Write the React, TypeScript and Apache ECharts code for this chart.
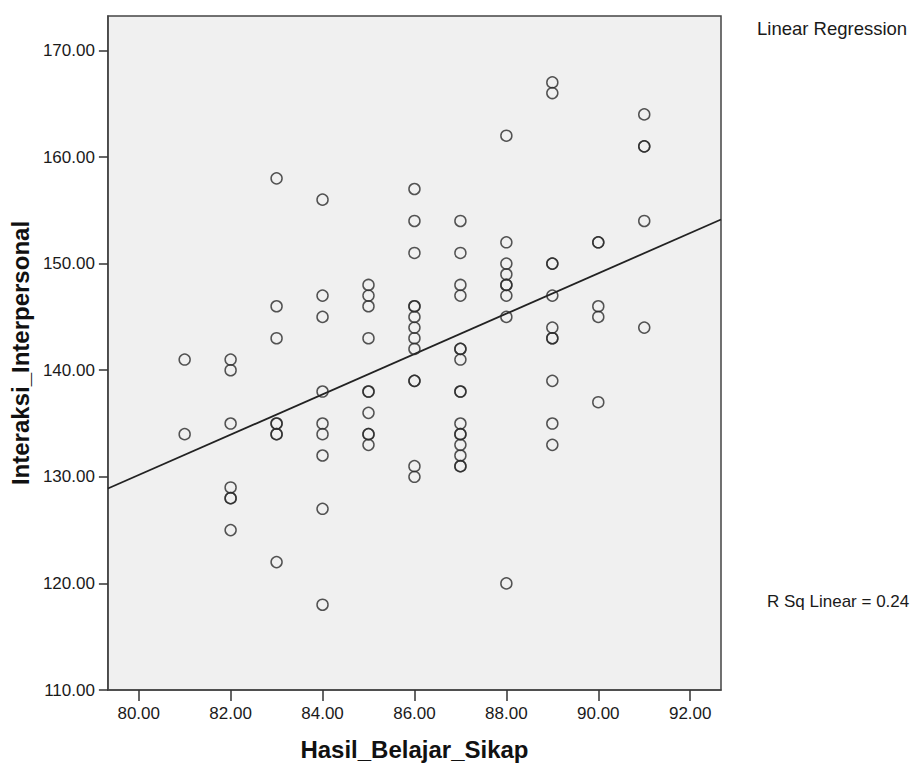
import React, { useEffect, useRef } from "react";
import * as echarts from "echarts";

// Scatter data: Hasil_Belajar_Sikap (x) vs Interaksi_Interpersonal (y)
const x81 = [141, 134];
const x82 = [141, 140, 135, 129, 128, 128, 125];
const x83 = [158, 146, 143, 135, 135, 134, 134, 122];
const x84 = [156, 147, 145, 138, 135, 134, 132, 127, 118];
const x85 = [148, 147, 146, 143, 138, 138, 136, 134, 134, 133];
const x86 = [157, 154, 151, 146, 146, 145, 144, 143, 142, 139, 139, 131, 130];
const x87 = [154, 151, 148, 147, 142, 142, 141, 138, 138, 135, 134, 134, 133, 132, 131, 131];
const x88 = [162, 152, 150, 149, 148, 148, 147, 145, 120];
const x89 = [167, 166, 150, 150, 147, 144, 143, 143, 139, 135, 133];
const x90 = [152, 152, 146, 145, 137];
const x91 = [164, 161, 161, 154, 144];

const columnX = [81, 82, 83, 84, 85, 86, 87, 88, 89, 90, 91];
const columnY = [x81, x82, x83, x84, x85, x86, x87, x88, x89, x90, x91];

// Fitted regression line endpoints (read at the plot edges)
const regLineX = [79.33, 92.67];
const regLineY = [128.9, 154.14];

const xTicks = [80, 82, 84, 86, 88, 90, 92];
const yTicks = [110, 120, 130, 140, 150, 160, 170];
const xExtent = [79.33, 92.67];
const yExtent = [110, 173.23];

const rSqText = "R Sq Linear = 0.24";
const legendText = "Linear Regression";

const FONT = "'Liberation Sans', Arial, Helvetica, sans-serif";

export default function App() {
  const ref = useRef<HTMLDivElement>(null);
  useEffect(() => {
    if (!ref.current) return;
    const chart = echarts.init(ref.current, null, { renderer: "svg" });
    const points: number[][] = [];
    columnX.forEach((cx, i) => {
      columnY[i].forEach((v) => points.push([cx, v]));
    });
    chart.setOption({
      animation: false,
      backgroundColor: "#ffffff",
      textStyle: { fontFamily: FONT },
      grid: {
        left: 106,
        top: 16,
        right: 203,
        bottom: 72,
        show: true,
        backgroundColor: "#f0f0f0",
        borderColor: "#444444",
        borderWidth: 1.5,
      },
      xAxis: {
        type: "value",
        min: xExtent[0],
        max: xExtent[1],
        name: "Hasil_Belajar_Sikap",
        nameLocation: "middle",
        nameGap: 47,
        nameTextStyle: { fontFamily: FONT, fontWeight: "bold", fontSize: 24, color: "#111" },
        axisLine: { show: true, lineStyle: { color: "#444", width: 1.5 } },
        axisTick: {
          show: true,
          inside: false,
          length: 11,
          customValues: xTicks,
          lineStyle: { color: "#333", width: 1.5 },
        },
        axisLabel: {
          customValues: xTicks,
          margin: 15,
          fontSize: 17,
          color: "#1a1a1a",
          fontFamily: FONT,
          formatter: (v: number) => v.toFixed(2),
        },
        splitLine: { show: false },
      },
      yAxis: {
        type: "value",
        min: yExtent[0],
        max: yExtent[1],
        name: "Interaksi_Interpersonal",
        nameLocation: "middle",
        nameGap: 74,
        nameTextStyle: { fontFamily: FONT, fontWeight: "bold", fontSize: 24, color: "#111" },
        axisLine: { show: true, lineStyle: { color: "#444", width: 1.5 } },
        axisTick: {
          show: true,
          inside: false,
          length: 9,
          customValues: yTicks,
          lineStyle: { color: "#333", width: 1.5 },
        },
        axisLabel: {
          customValues: yTicks,
          margin: 13,
          fontSize: 17,
          color: "#1a1a1a",
          fontFamily: FONT,
          formatter: (v: number) => v.toFixed(2),
        },
        splitLine: { show: false },
      },
      series: [
        {
          type: "line",
          data: regLineX.map((x, i) => [x, regLineY[i]]),
          symbol: "none",
          lineStyle: { color: "#222", width: 1.8 },
          silent: true,
          z: 3,
        },
        {
          type: "scatter",
          data: points,
          symbol: "circle",
          symbolSize: 11,
          itemStyle: { color: "rgba(0,0,0,0)", borderColor: "#2a2a2a", borderWidth: 1.5 },
          z: 4,
        },
      ],
      graphic: [
        {
          type: "text",
          left: 757,
          top: 19,
          style: { text: legendText, font: `18.5px ${FONT}`, fill: "#1a1a1a" },
        },
        {
          type: "text",
          left: 767,
          top: 593,
          style: { text: rSqText, font: `17px ${FONT}`, fill: "#1a1a1a" },
        },
      ],
    });
    return () => chart.dispose();
  }, []);
  return (
    <div
      ref={ref}
      style={{ position: "fixed", left: 0, top: 0, width: 924, height: 766 }}
    />
  );
}
